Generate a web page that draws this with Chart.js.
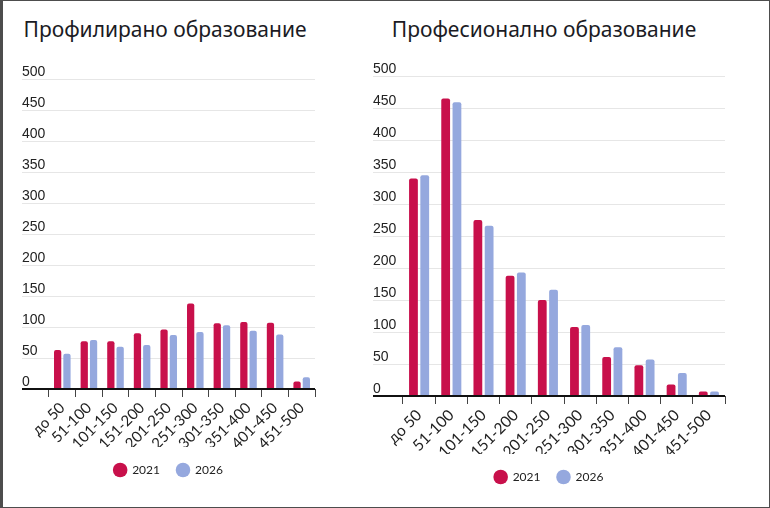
<!DOCTYPE html>
<html lang="bg">
<head>
  <meta charset="UTF-8">
  <title>Профилирано и професионално образование</title>
  <script src="https://cdn.jsdelivr.net/npm/chart.js"></script>
  <style>
    body {
      margin: 0;
      background: #fff;
      width: 770px;
      height: 508px;
      overflow: hidden;
      position: relative;
    }

    .box {
      position: absolute;
      top: 0;
      height: 508px;
    }

    .title {
      position: absolute;
      top: 14px;
      height: 30px;
      line-height: 30px;
      text-align: center;
      font-family: 'Noto Sans', sans-serif;
      font-size: 21px;
      color: #1b1b24;
      white-space: nowrap;
    }

    #frame {
      position: absolute;
      left: 0;
      top: 0;
      width: 770px;
      height: 508px;
      box-sizing: border-box;
      border-style: solid;
      border-color: #4d4d4d;
      border-width: 1px 1px 1px 3px;
      pointer-events: none;
    }
  </style>
</head>
<body>

  <div class="title" style="left: 0; width: 330px;">Профилирано образование</div>
  <div class="title" style="left: 344px; width: 400px;">Професионално образование</div>

  <div class="box" style="left: 0; width: 345px;"><canvas id="left"></canvas></div>
  <div class="box" style="left: 350px; width: 420px;"><canvas id="right"></canvas></div>

  <div id="frame"></div>

  <script>
    // Скали по бал
    const categories = ['до 50', '51-100', '101-150', '151-200', '201-250',
                        '251-300', '301-350', '351-400', '401-450', '451-500'];
    const seriesNames = ['2021', '2026'];

    // Профилирано образование
    const profiled2021 = [63, 77, 77, 90, 96, 138, 106, 108, 107, 12];
    const profiled2026 = [57, 79, 68, 71, 87, 92, 103, 94, 88, 19];

    // Професионално образование
    const vocational2021 = [340, 465, 275, 188, 150, 108, 61, 48, 18, 7];
    const vocational2026 = [345, 459, 266, 193, 166, 111, 76, 57, 36, 7];

    const yMin = 0;
    const yMax = 500;
    const yStep = 50;

    const colors = ['#c8104b', '#95a8de'];

    const isZero = c => c.tick && c.tick.value === 0;
    const gridColor = c => isZero(c) ? '#111' : '#e6e6e6';
    const gridWidth = c => isZero(c) ? 2 : 1;

    function drawChart(id, values, s) {
      return new Chart(document.getElementById(id), {
        type: 'bar',
        data: {
          labels: categories,
          datasets: values.map((v, i) => ({
            label: seriesNames[i],
            data: v,
            backgroundColor: colors[i],
            borderWidth: 0,
            borderRadius: 2,
            categoryPercentage: 0.7,
            barPercentage: 0.78
          }))
        },
        options: {
          responsive: true,
          maintainAspectRatio: false,
          animation: false,
          layout: {
            padding: { left: s.padLeft, right: s.padRight, top: s.padTop, bottom: s.padBottom }
          },
          plugins: {
            title: { display: false },
            tooltip: { enabled: false },
            legend: {
              position: 'bottom',
              labels: {
                usePointStyle: true,
                pointStyle: 'circle',
                boxWidth: 12,
                boxHeight: 10.3,
                padding: 17,
                color: '#222',
                font: { family: 'Lato', size: 12 }
              }
            }
          },
          scales: {
            x: {
              border: { display: false },
              grid: {
                offset: true,
                drawOnChartArea: false,
                tickLength: 8,
                color: '#444'
              },
              ticks: {
                autoSkip: false,
                maxRotation: 45,
                minRotation: 45,
                padding: 2,
                color: '#222',
                font: { family: 'Lato', size: s.xFont }
              },
              afterFit: sc => { sc.height = s.xHeight; }
            },
            y: {
              min: yMin,
              max: yMax,
              border: { display: false },
              grid: {
                color: gridColor,
                lineWidth: gridWidth,
                tickColor: gridColor,
                tickWidth: gridWidth,
                tickLength: s.yWidth
              },
              ticks: {
                stepSize: yStep,
                align: 'end',
                crossAlign: 'far',
                padding: 0,
                color: '#222',
                font: { family: 'Liberation Sans', size: 14 }
              },
              afterFit: sc => { sc.width = s.yWidth; }
            }
          }
        }
      });
    }

    drawChart('left', [profiled2021, profiled2026], {
      padLeft: 22, padRight: 30, padTop: 79, padBottom: 22,
      yWidth: 27, xHeight: 58, xFont: 15
    });

    drawChart('right', [vocational2021, vocational2026], {
      padLeft: 23, padRight: 45, padTop: 76, padBottom: 15,
      yWidth: 30, xHeight: 58, xFont: 15.5
    });
  </script>

</body>
</html>
